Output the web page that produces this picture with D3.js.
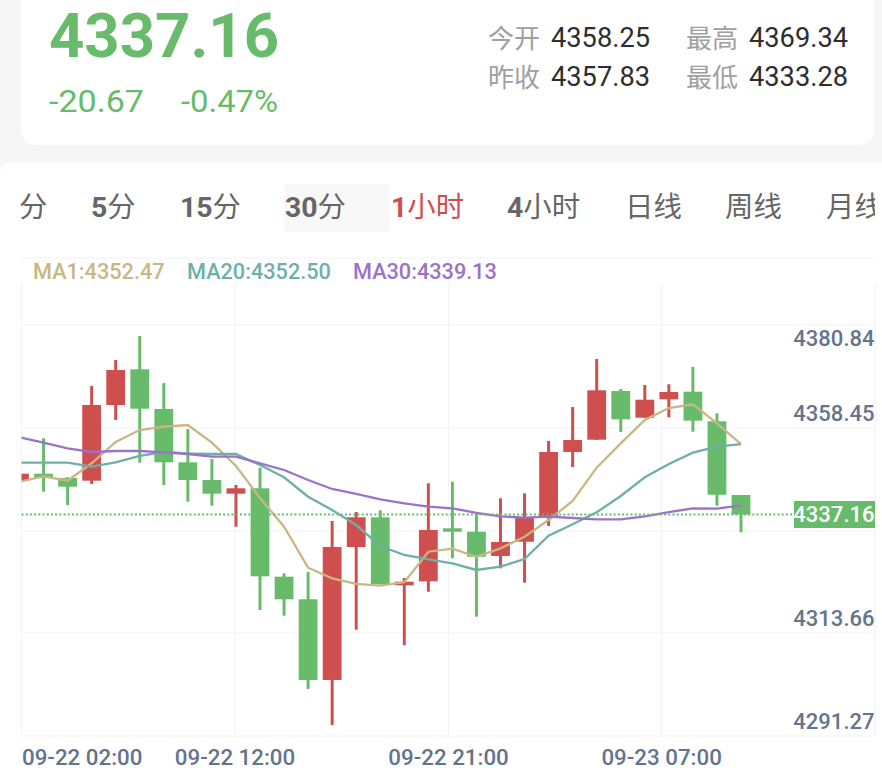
<!DOCTYPE html>
<html><head><meta charset="utf-8">
<script src="https://cdn.jsdelivr.net/npm/d3@7/dist/d3.min.js"></script>
<style>
html,body{margin:0;padding:0;background:#f6f6f6;overflow:hidden}
svg{display:block;font-family:Roboto,"Noto Sans CJK SC",sans-serif}
</style></head><body><svg id="c" width="882" height="773"></svg>
<script>
// Candle values, one entry per hour bar
const opens  = [4344.53,4346.05,4345.11,4344.53,4361.02,4368.80,4360.15,4348.53,4344.68,4341.69,4342.87,4323.61,4318.68,4301.10,4330.08,4336.55,4321.73,4322.60,4334.15,4333.41,4328.12,4331.23,4336.68,4350.78,4353.46,4364.07,4358.25,4362.26,4363.92,4357.47,4341.41];
const highs  = [4346.05,4353.76,4345.27,4365.16,4370.83,4376.06,4365.81,4355.79,4349.25,4343.59,4347.36,4324.35,4324.63,4335.74,4337.70,4338.08,4323.32,4343.96,4344.31,4337.42,4340.69,4341.78,4353.18,4360.58,4371.04,4364.51,4365.38,4365.53,4369.30,4359.21,4341.41];
const lows   = [4344.53,4342.13,4339.23,4343.81,4357.75,4348.45,4343.59,4339.95,4339.08,4334.50,4316.35,4315.11,4299.14,4291.29,4312.06,4321.90,4308.66,4320.34,4327.62,4314.89,4325.44,4322.30,4334.65,4347.51,4353.39,4355.14,4358.25,4358.34,4355.20,4339.08,4333.28];
const closes = [4346.05,4345.11,4343.22,4361.02,4368.65,4360.21,4348.53,4344.68,4341.69,4342.87,4323.69,4318.68,4301.10,4330.08,4336.55,4322.02,4322.52,4333.78,4333.41,4327.96,4331.17,4336.46,4350.78,4353.39,4364.22,4357.90,4362.17,4363.85,4357.60,4341.47,4337.16];
const ma1  = [4344.31,4345.48,4344.53,4348.32,4352.96,4355.57,4356.29,4356.66,4352.81,4347.73,4340.76,4334.50,4325.57,4323.26,4322.02,4321.65,4322.39,4329.05,4329.71,4327.96,4329.79,4332.32,4335.96,4340.10,4347.36,4352.67,4357.75,4360.37,4361.17,4357.03,4352.47];
const ma20 = [4348.45,4348.45,4348.45,4347.58,4348.53,4349.91,4350.78,4350.50,4350.34,4350.34,4347.95,4345.27,4341.04,4338.14,4334.87,4330.30,4328.34,4327.40,4326.53,4325.07,4325.79,4327.46,4332.54,4335.02,4337.64,4341.19,4345.27,4348.16,4350.63,4351.93,4352.50];
const ma30 = [4353.98,4352.81,4351.59,4350.78,4351.00,4351.00,4350.71,4350.34,4349.75,4349.75,4348.32,4346.86,4344.68,4342.72,4341.63,4340.47,4339.60,4338.86,4338.51,4337.49,4336.77,4336.46,4336.68,4336.40,4336.11,4336.11,4336.77,4337.70,4338.51,4338.42,4339.13];
const priceTicks = [4380.84,4358.45,4313.66,4291.27];
const gridPrices = [4393.05,4378.45,4356.01,4333.56,4311.34,4288.89];
const timeLabels = ["09-22 02:00","09-22 12:00","09-22 21:00","09-23 07:00"];
const gridSlots  = [0.09,8.96,17.84,26.70,35.57];
const lastPrice = 4337.16;
const headerPrice = "4337.16", changeAbs = "-20.67", changePct = "-0.47%";
const stats = [["今开","4358.25"],["最高","4369.34"],["昨收","4357.83"],["最低","4333.28"]];
const tabs = [["","分"],["5","分"],["15","分"],["30","分"],["1","小时"],["4","小时"],["","日线"],["","周线"],["","月线"]];
const legend = ["MA1:4352.47","MA20:4352.50","MA30:4339.13"];

const GREEN="#68bb6b", RED="#cf4f4e", C1="#c9b683", C20="#6fb0a6", C30="#9b72c8", AXIS="#64748f", GRID="#f4f4f4";
const svg=d3.select("#c");
// panels
svg.append("rect").attr("x",21).attr("y",-20).attr("width",853).attr("height",165).attr("rx",15).attr("fill","#fff");
svg.append("rect").attr("x",0).attr("y",162).attr("width",900).attr("height",640).attr("rx",10).attr("fill","#fff");
// header
const T=(x,y,s,size,fill,w,anchor)=>svg.append("text").attr("x",x).attr("y",y).attr("font-size",size).attr("fill",fill)
  .attr("font-weight",w||400).attr("text-anchor",anchor||"start").text(s);
T(49,57,headerPrice,62,GREEN,700).attr("textLength",230).attr("lengthAdjust","spacingAndGlyphs");
T(49,112,changeAbs,31,GREEN,400).attr("textLength",95).attr("lengthAdjust","spacingAndGlyphs");
T(181,112,changePct,31,GREEN,400).attr("textLength",97).attr("lengthAdjust","spacingAndGlyphs");
const sx=[[488,551],[686,749],[488,551],[686,749]], sy=[48,48,87,87];
stats.forEach((s,i)=>{
  T(sx[i][0],sy[i],s[0],26,"#a0a0a0",400);
  T(sx[i][1],sy[i]-1,s[1],27,"#2e2e2e",400).attr("textLength",99).attr("lengthAdjust","spacingAndGlyphs");
});
// tabs
svg.append("rect").attr("x",284).attr("y",184).attr("width",105).attr("height",48).attr("fill","#f8f8f8");
defsTabs();
function defsTabs(){
  svg.append("defs").append("clipPath").attr("id","tc").append("rect").attr("x",0).attr("y",170).attr("width",875).attr("height",70);
}
const tabX=[19,91,180,285,391,507,625,725,826];
const tabG=svg.append("g").attr("clip-path","url(#tc)");
tabs.forEach((t,i)=>{
  const col=i===4?RED:"#666";
  const e=tabG.append("text").attr("x",tabX[i]).attr("y",217).attr("font-size",28.4).attr("fill",col);
  if(t[0]) e.append("tspan").attr("font-weight",700).text(t[0]);
  e.append("tspan").text(t[1]);
});
// scales
const x=d3.scaleLinear().domain([0,30]).range([19.5,741]);
const y=d3.scaleLinear().domain([lastPrice,lastPrice-10]).range([514.5,514.5+45.89]);
// grid
const L=21.5, R=874;
svg.append("g").selectAll("line").data(gridPrices).join("line")
  .attr("x1",L).attr("x2",R).attr("y1",d=>y(d)).attr("y2",d=>y(d)).attr("stroke",GRID).attr("stroke-width",1.2);
svg.append("g").selectAll("line").data(gridSlots).join("line")
  .attr("x1",d=>x(d)).attr("x2",d=>x(d)).attr("y1",283).attr("y2",y(gridPrices[5])).attr("stroke",GRID).attr("stroke-width",1.2);
// legend
const lx=[33,187,353], lc=[C1,C20,C30];
legend.forEach((s,i)=>T(lx[i],279,s,21.7,lc[i],500));
// clip
const defs=svg.append("defs");
defs.append("clipPath").attr("id","pl").append("rect").attr("x",L).attr("y",258).attr("width",R-L).attr("height",480);
const plot=svg.append("g").attr("clip-path","url(#pl)");
const idx=d3.range(closes.length);
const col=i=>closes[i]>=opens[i]?RED:GREEN;
plot.append("g").selectAll("rect").data(idx).join("rect")
  .attr("x",i=>x(i)-1.5).attr("width",3).attr("y",i=>y(highs[i])).attr("height",i=>Math.max(0,y(lows[i])-y(highs[i]))).attr("fill",col);
plot.append("g").selectAll("rect").data(idx).join("rect")
  .attr("x",i=>x(i)-9.4).attr("width",18.8)
  .attr("y",i=>y(Math.max(opens[i],closes[i])))
  .attr("height",i=>Math.max(1,Math.abs(y(opens[i])-y(closes[i])))).attr("fill",col);
const line=d3.line().x((d,i)=>x(i)).y(d=>y(d));
[[ma1,C1],[ma20,C20],[ma30,C30]].forEach(([d,c])=>{
  plot.append("path").attr("d",line(d)).attr("fill","none").attr("stroke",c).attr("stroke-width",2.3);
});
// last price line
svg.append("line").attr("x1",L).attr("x2",794).attr("y1",y(lastPrice)).attr("y2",y(lastPrice))
  .attr("stroke",GREEN).attr("stroke-width",2).attr("stroke-dasharray","2 2.2");
// price axis
svg.append("g").selectAll("text").data(priceTicks).join("text")
  .attr("x",874.5).attr("y",d=>Math.max(y(d)-3.5,338)+7.5).attr("text-anchor","end")
  .attr("font-size",22).attr("font-weight",500).attr("fill",AXIS).text(d=>d.toFixed(2));
svg.append("rect").attr("x",794).attr("y",y(lastPrice)-13.5).attr("width",81).attr("height",27).attr("fill",GREEN);
svg.append("text").attr("x",874.5).attr("y",y(lastPrice)+7.5).attr("text-anchor","end").attr("font-size",22)
  .attr("font-weight",500).attr("fill","#fff").text(lastPrice.toFixed(2));
// time axis
svg.append("g").selectAll("text").data(timeLabels).join("text")
  .attr("x",(d,i)=>i===0?22:x(gridSlots[i])).attr("y",764.5).attr("text-anchor",(d,i)=>i===0?"start":"middle")
  .attr("font-size",22.3).attr("font-weight",500).attr("fill",AXIS).text(d=>d);
</script></body></html>
